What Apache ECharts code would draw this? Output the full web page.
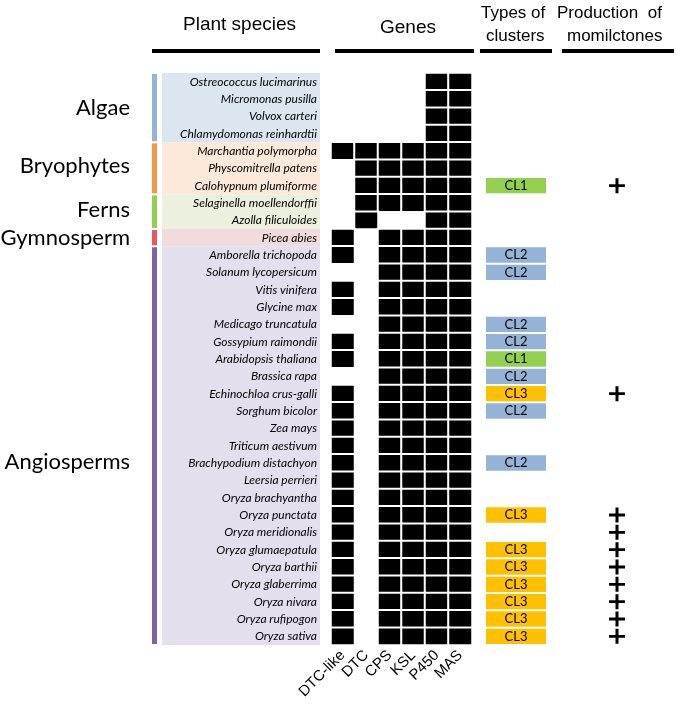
<!DOCTYPE html>
<html><head><meta charset="utf-8">
<script src="https://cdn.jsdelivr.net/npm/echarts@6/dist/echarts.min.js"></script>
<style>html,body{margin:0;padding:0;background:#fff}#c{width:677px;height:712px}</style>
</head><body><div id="c"></div>
<script>
const species = [
  'Ostreococcus lucimarinus','Micromonas pusilla','Volvox carteri','Chlamydomonas reinhardtii',
  'Marchantia polymorpha','Physcomitrella patens','Calohypnum plumiforme',
  'Selaginella moellendorffii','Azolla filiculoides',
  'Picea abies',
  'Amborella trichopoda','Solanum lycopersicum','Vitis vinifera','Glycine max','Medicago truncatula',
  'Gossypium raimondii','Arabidopsis thaliana','Brassica rapa','Echinochloa crus-galli','Sorghum bicolor',
  'Zea mays','Triticum aestivum','Brachypodium distachyon','Leersia perrieri','Oryza brachyantha',
  'Oryza punctata','Oryza meridionalis','Oryza glumaepatula','Oryza barthii','Oryza glaberrima',
  'Oryza nivara','Oryza rufipogon','Oryza sativa'
];
const genes = ['DTC-like','DTC','CPS','KSL','P450','MAS'];
// presence (1) / absence (0) per species, in gene order
const presence = [
  [0,0,0,0,1,1],[0,0,0,0,1,1],[0,0,0,0,1,1],[0,0,0,0,1,1],
  [1,1,1,1,1,1],[0,1,1,1,1,1],[0,1,1,1,1,1],
  [0,1,1,1,1,1],[0,1,0,0,1,1],
  [1,0,1,1,1,1],
  [1,0,1,1,1,1],[0,0,1,1,1,1],[1,0,1,1,1,1],[1,0,1,1,1,1],[0,0,1,1,1,1],
  [1,0,1,1,1,1],[1,0,1,1,1,1],[0,0,1,1,1,1],[1,0,1,1,1,1],[1,0,1,1,1,1],
  [1,0,1,1,1,1],[1,0,1,1,1,1],[1,0,1,1,1,1],[1,0,1,1,1,1],[1,0,1,1,1,1],
  [1,0,1,1,1,1],[1,0,1,1,1,1],[1,0,1,1,1,1],[1,0,1,1,1,1],[1,0,1,1,1,1],
  [1,0,1,1,1,1],[1,0,1,1,1,1],[1,0,1,1,1,1]
];
const clusterType = [
  '','','','',
  '','','CL1',
  '','',
  '',
  'CL2','CL2','','','CL2',
  'CL2','CL1','CL2','CL3','CL2',
  '','','CL2','','',
  'CL3','','CL3','CL3','CL3',
  'CL3','CL3','CL3'
];
const momilactone = [
  0,0,0,0, 0,0,1, 0,0, 0,
  0,0,0,0,0, 0,0,0,1,0, 0,0,0,0,0, 1,1,1,1,1, 1,1,1
];
const groupNames = ['Algae','Bryophytes','Ferns','Gymnosperm','Angiosperms'];
const groupSizes = [4,3,2,1,23];

// styles
const groupBarColors = ['#95b3d7','#f79646','#92d050','#e8575a','#8064a2'];
const groupBgColors = ['#dce6f1','#fde9d9','#ebf1de','#f2dcdb','#e4dfec'];
const clusterColors = {CL1:'#92d050', CL2:'#95b3d7', CL3:'#ffc000'};
const groupLabelShift = [0,-2,-2,0,16];

const TOP = 73, H = 572;
const groupRanges = [];
let s0 = 0;
groupSizes.forEach((n, g) => { groupRanges.push([0, s0, s0 + n - 1, g]); s0 += n; });

const heatData = [];
presence.forEach((row, si) => row.forEach((v, gi) => { if (v) heatData.push([gi, si, 1]); }));

const hiddenCat = (gi) => ({type:'category', gridIndex:gi, data:species, inverse:true, show:false});
const hiddenVal = (gi) => ({type:'value', gridIndex:gi, min:0, max:1, show:false});

function bandRect(api, a, b, inset) {
  const h = api.size([0,1])[1];
  return [api.coord([0, a])[1] - h/2 + inset, api.coord([0, b])[1] + h/2 - inset];
}

const option = {
  animation:false,
  grid:[
    {left:331, top:TOP, width:141, height:H},
    {left:162, top:TOP, width:158, height:H},
    {left:486, top:TOP, width:60, height:H},
    {left:600, top:TOP, width:34, height:H},
    {left:152, top:TOP, width:5, height:H}
  ],
  xAxis:[
    {type:'category', gridIndex:0, data:genes, axisLine:{show:false}, axisTick:{show:false},
     axisLabel:{rotate:45, margin:8, fontFamily:'Liberation Sans', fontSize:15, color:'#000', interval:0}},
    hiddenVal(1), hiddenVal(2), hiddenVal(3), hiddenVal(4)
  ],
  yAxis:[
    {type:'category', gridIndex:0, data:species, inverse:true, z:10, axisLine:{show:false}, axisTick:{show:false},
     axisLabel:{margin:14, fontFamily:'Lato', fontStyle:'italic', fontSize:12, color:'#000', interval:0}},
    hiddenCat(1), hiddenCat(2), hiddenCat(3), hiddenCat(4)
  ],
  visualMap:{show:false, seriesIndex:0, min:0, max:1, inRange:{color:['#000','#000']}},
  series:[
    {type:'heatmap', xAxisIndex:0, yAxisIndex:0, data:heatData,
     itemStyle:{color:'#000', borderColor:'#fff', borderWidth:2}, emphasis:{disabled:true}},
    {type:'custom', xAxisIndex:1, yAxisIndex:1, data:groupRanges, z:1,
     renderItem:(params, api) => {
       const [y1, y2] = bandRect(api, api.value(1), api.value(2), 0);
       const cs = params.coordSys;
       return {type:'rect', shape:{x:cs.x, y:y1, width:cs.width, height:y2-y1}, style:{fill:groupBgColors[api.value(3)]}};
     }},
    {type:'bar', xAxisIndex:2, yAxisIndex:2, barWidth:'88%',
     data:clusterType.map(c => c ? {value:1, itemStyle:{color:clusterColors[c]}, name:c} : null),
     label:{show:true, position:'inside', formatter:p=>clusterType[p.dataIndex], fontFamily:'Lato', fontSize:13, color:'#000'}},
    {type:'scatter', xAxisIndex:3, yAxisIndex:3,
     data:momilactone.map((v,i)=> v ? [0.5, i] : null).filter(d=>d),
     symbol:'path://M6.5,0H9.5V6.5H16V9.5H9.5V16H6.5V9.5H0V6.5H6.5Z', symbolSize:[16,15],
     itemStyle:{color:'#000', opacity:1}},
    {type:'custom', xAxisIndex:4, yAxisIndex:4, data:groupRanges, clip:false,
     renderItem:(params, api) => {
       const g = api.value(3);
       const [y1, y2] = bandRect(api, api.value(1), api.value(2), 1);
       const cs = params.coordSys;
       return {type:'group', children:[
         {type:'rect', shape:{x:cs.x, y:y1, width:cs.width, height:y2-y1}, style:{fill:groupBarColors[g]}},
         {type:'text', style:{text:groupNames[g], x:cs.x-22, y:(y1+y2)/2 + groupLabelShift[g], align:'right', verticalAlign:'middle',
           font:'22px Lato', fill:'#000'}}
       ]};
     }}
  ],
  graphic:[
    {type:'text', left:183, top:15, style:{text:'Plant species', font:'19px "Liberation Sans"', fill:'#000'}},
    {type:'text', left:380, top:18, style:{text:'Genes', font:'19px "Liberation Sans"', fill:'#000'}},
    {type:'text', left:481, top:5, style:{text:'Types of', font:'17px "Liberation Sans"', fill:'#000'}},
    {type:'text', left:486, top:28, style:{text:'clusters', font:'17px "Liberation Sans"', fill:'#000'}},
    {type:'text', left:557, top:5, style:{text:'Production  of', font:'17px "Liberation Sans"', fill:'#000'}},
    {type:'text', left:567, top:28, style:{text:'momilctones', font:'17px "Liberation Sans"', fill:'#000'}},
    {type:'rect', shape:{x:152, y:49, width:168, height:4}, style:{fill:'#000'}},
    {type:'rect', shape:{x:335, y:49, width:139, height:4}, style:{fill:'#000'}},
    {type:'rect', shape:{x:480, y:49, width:72, height:4}, style:{fill:'#000'}},
    {type:'rect', shape:{x:562, y:49, width:112, height:4}, style:{fill:'#000'}}
  ]
};
echarts.init(document.getElementById('c')).setOption(option);
</script></body></html>
